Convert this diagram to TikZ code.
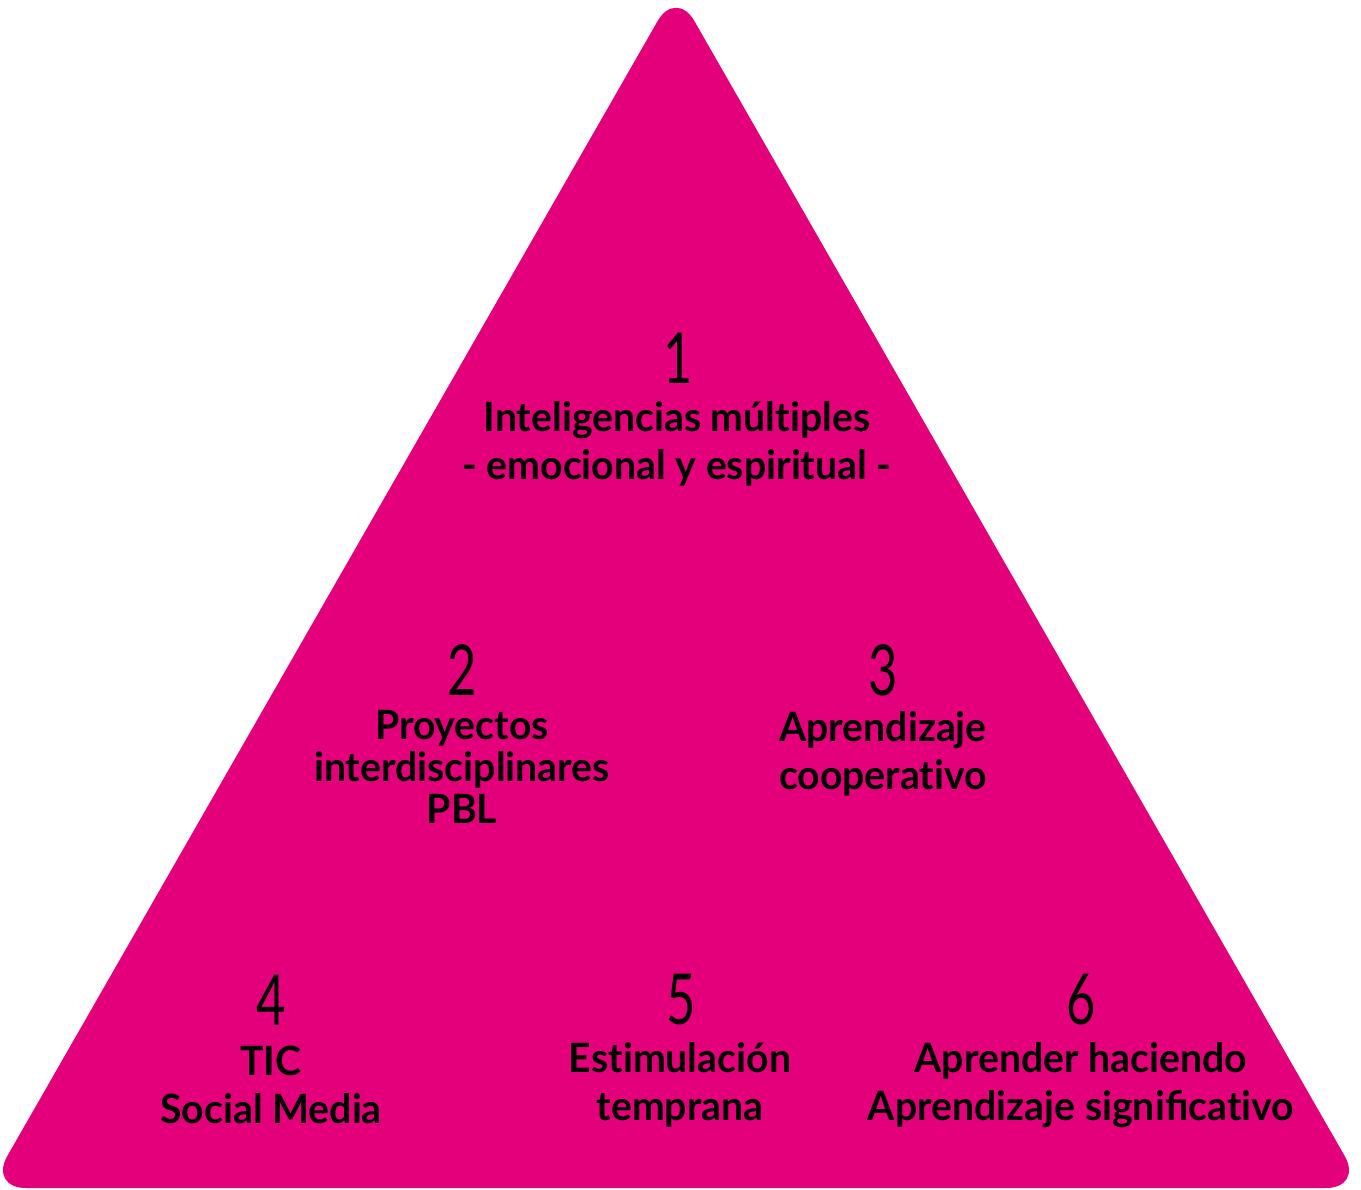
\documentclass[tikz,border=0pt]{standalone}
\usepackage{fontspec}
\setmainfont[FakeStretch=0.97]{Lato}
\newfontfamily\numfont[FakeStretch=0.72]{Lato}
\usetikzlibrary{positioning}

\definecolor{pyramidpink}{RGB}{227,0,122}

% keep "t" and "i" apart (no ligature)
\newcommand{\tsep}{\kern0pt{}}

\tikzset{
  numlabel/.style={font=\numfont\fontsize{40}{40}\selectfont, inner sep=0pt},
  itemlabel/.style={font=\bfseries\fontsize{23}{27.3}\selectfont, align=center, inner sep=0pt}
}

\begin{document}
\begin{tikzpicture}[x=0.02cm,y=-0.02cm]
        \useasboundingbox (0,0) rectangle (1361,1189);

        % Draw the triangle
        \fill[pyramidpink, rounded corners=21pt] (-11,1188) -- (676,-11) -- (1363,1188) -- cycle;

        % Top level
        \node[numlabel] (num1) at (678,358) {1};
        \node[itemlabel] (item1) at (677,444) {Inteligencias múlt\tsep iples\\- emocional y espirit\tsep ual -};

        % Middle level
        \node[numlabel] (num2) at (462,670) {2};
        \node[itemlabel, font=\bfseries\fontsize{23}{23.9}\selectfont] (item2) at (462,767) {Proyectos\\interdisciplinares\\PBL};
        \node[numlabel] (num3) at (883,670) {3};
        \node[itemlabel] (item3) at (883,754) {Aprendizaje\\cooperat\tsep ivo};

        % Bottom level
        \node[numlabel] (num4) at (271,1000) {4};
        \node[itemlabel] (item4) at (271,1085) {TIC\\Social Media};
        \node[numlabel] (num5) at (681,1000) {5};
        \node[itemlabel] (item5) at (680,1085) {Est\tsep imulación\\temprana};
        \node[numlabel] (num6) at (1081,1000) {6};
        \node[itemlabel] (item6) at (1081,1085) {Aprender haciendo\\Aprendizaje significat\tsep ivo};
\end{tikzpicture}
\end{document}
